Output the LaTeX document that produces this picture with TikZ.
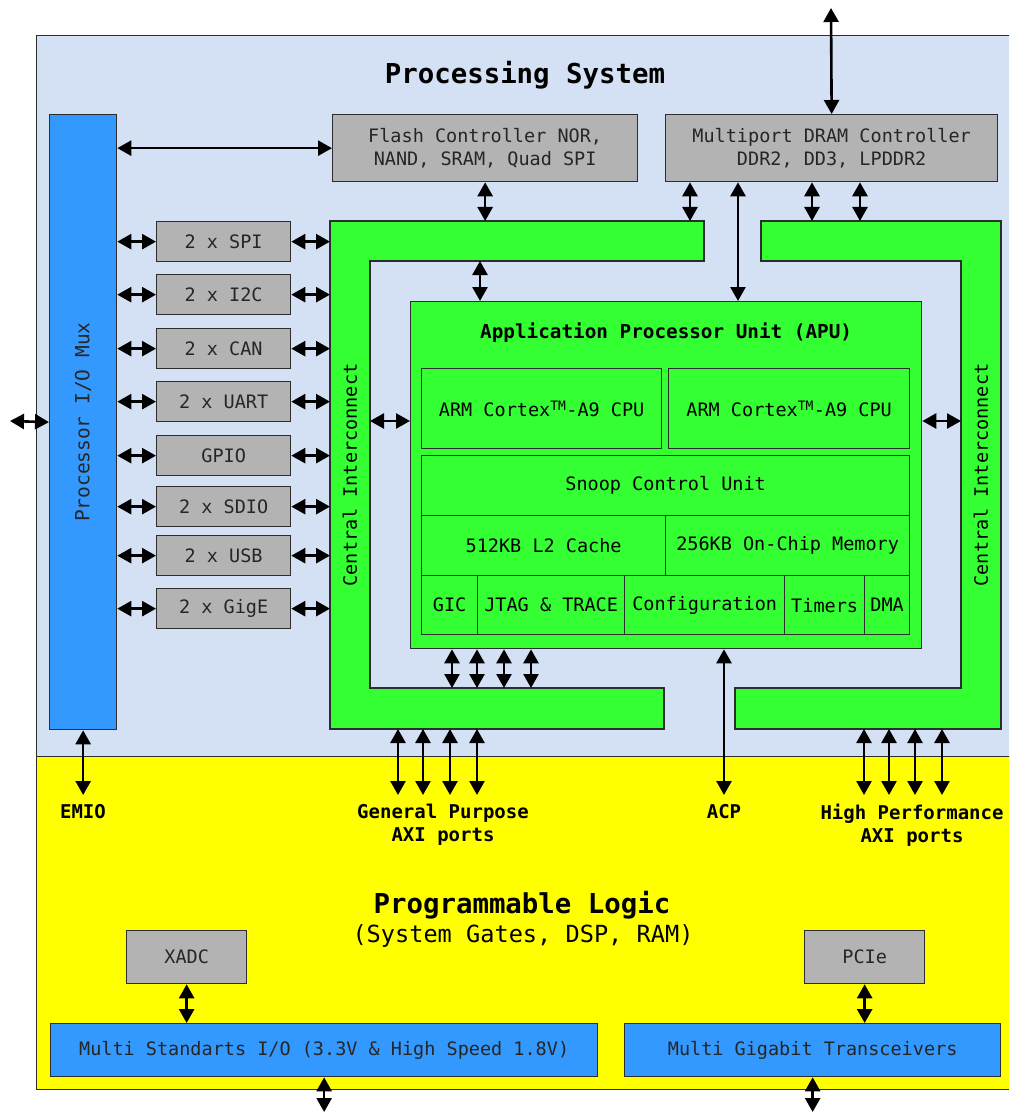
\documentclass[tikz,border=0pt]{standalone}
\usepackage{fontspec}
\setmainfont{DejaVu Sans Mono}
\usetikzlibrary{arrows.meta, positioning, calc}
\definecolor{psblue}{RGB}{212,225,244}
\definecolor{plyellow}{RGB}{255,255,0}
\definecolor{busgreen}{RGB}{51,255,51}
\definecolor{muxblue}{RGB}{51,153,255}
\definecolor{periphgray}{RGB}{179,179,179}
\definecolor{edgegray}{RGB}{45,45,45}
\tikzset{
  basebox/.style={rectangle,draw=edgegray,line width=1.3pt,inner sep=0pt,align=center,anchor=north west,font=\fontsize{18.5}{23}\selectfont},
  graybox/.style={basebox,fill=periphgray,text=black!85},
  bluebox/.style={basebox,fill=muxblue,text=black!85},
  greenbox/.style={basebox,fill=busgreen},
  periph/.style={graybox,minimum width=134pt,minimum height=40pt},
  busshape/.style={draw=edgegray,line width=1.3pt,fill=busgreen},
  biarr/.style={{Triangle[length=14pt,width=15pt]}-{Triangle[length=14pt,width=15pt]},line width=2.6pt,black},
  lbl/.style={anchor=north,align=center,font=\fontsize{19}{23}\selectfont\bfseries},
  vlbl/.style={rotate=90,font=\fontsize{18.5}{23}\selectfont},
  bigtitle/.style={font=\fontsize{27.4}{32}\selectfont\bfseries}
}

\begin{document}
\begin{tikzpicture}[x=1pt,y=-1pt]
  \useasboundingbox (0,0) rectangle (1009,1115);
  \clip (0,0) rectangle (1009,1115);

  %% Regions
  \node[basebox,fill=psblue,minimum width=994pt,minimum height=721pt] (ps) at (36,35) {};
  \node[basebox,fill=plyellow,minimum width=994pt,minimum height=333pt] (pl) at (36,756) {};
  \node[bigtitle] (pstitle) at (525,75) {Processing System};
  \node[bigtitle] (pltitle) at (522,905) {Programmable Logic};
  \node[font=\fontsize{23.6}{28}\selectfont] (plsub) at (523,936) {(System Gates, DSP, RAM)};

  %% Central interconnect (two C-shaped buses)
  \coordinate (ciLnw) at (330,221);
  \coordinate (ciLin) at (370,261);
  \coordinate (ciLbot) at (370,688);
  \coordinate (ciLsw) at (330,729);
  \coordinate (ciRne) at (1001,221);
  \coordinate (ciRin) at (961,261);
  \coordinate (ciRbot) at (961,688);
  \coordinate (ciRse) at (1001,729);
  \draw[busshape] (ciLnw) -- (704,221) -- (704,261) -- (ciLin) -- (ciLbot)
    -- (664,688) -- (664,729) -- (ciLsw) -- cycle;
  \draw[busshape] (761,221) -- (ciRne) -- (ciRse) -- (735,729) -- (735,688)
    -- (ciRbot) -- (ciRin) -- (761,261) -- cycle;
  \node[vlbl] (ciLtext) at (350,475) {Central Interconnect};
  \node[vlbl] (ciRtext) at (981,475) {Central Interconnect};

  %% I/O mux and peripherals
  \node[bluebox,minimum width=67pt,minimum height=615pt] (mux) at (49,114) {};
  \node[vlbl,font=\fontsize{19.5}{23}\selectfont,text=black!85] (muxtext) at (mux.center) {Processor I/O Mux};
  \node[periph] (spi) at (156,221) {2 x SPI};
  \node[periph] (iic) at (156,274) {2 x I2C};
  \node[periph] (can) at (156,328) {2 x CAN};
  \node[periph] (uart) at (156,381) {2 x UART};
  \node[periph] (gpio) at (156,435) {GPIO};
  \node[periph] (sdio) at (156,486) {2 x SDIO};
  \node[periph] (usb) at (156,535) {2 x USB};
  \node[periph] (gige) at (156,588) {2 x GigE};

  %% Memory controllers
  \node[graybox,minimum width=305pt,minimum height=67pt] (flash) at (332,114) {Flash Controller NOR,\\NAND, SRAM, Quad SPI};
  \node[graybox,minimum width=332pt,minimum height=67pt] (dram) at (665,114) {Multiport DRAM Controller\\DDR2, DD3, LPDDR2};

  %% APU
  \node[greenbox,minimum width=511pt,minimum height=347pt] (apu) at (410,301) {};
  \node[font=\fontsize{19.3}{23}\selectfont\bfseries] (aputitle) at ([yshift=-32pt]apu.north) {Application Processor Unit (APU)};
  \node[greenbox,minimum width=240pt,minimum height=80pt] (cpua) at (421,368) {ARM Cortex\textsuperscript{TM}-A9 CPU};
  \node[greenbox,minimum width=241pt,minimum height=80pt] (cpub) at (668,368) {ARM Cortex\textsuperscript{TM}-A9 CPU};
  \node[greenbox,minimum width=488pt,minimum height=60pt] (scu) at (421,455) {Snoop Control Unit};
  \node[greenbox,minimum width=244pt,minimum height=60pt] (ltwo) at (421,515) {512KB L2 Cache};
  \node[greenbox,minimum width=244pt,minimum height=60pt] (ocm) at (665,515) {256KB On-Chip Memory};
  \node[greenbox,minimum width=56pt,minimum height=59pt] (gic) at (421,575) {GIC};
  \node[greenbox,minimum width=147pt,minimum height=59pt] (jtag) at (477,575) {JTAG \& TRACE};
  \node[greenbox,minimum width=160pt,minimum height=59pt] (config) at (624,575) {Configuration};
  \node[greenbox,minimum width=80pt,minimum height=59pt] (timers) at (784,575) {Timers};
  \node[greenbox,minimum width=45pt,minimum height=59pt] (dma) at (864,575) {DMA};

  %% Programmable logic blocks
  \node[graybox,minimum width=120pt,minimum height=53pt] (xadc) at (126,930) {XADC};
  \node[graybox,minimum width=120pt,minimum height=53pt] (pcie) at (804,930) {PCIe};
  \node[bluebox,minimum width=547pt,minimum height=53pt] (msio) at (50,1023) {Multi Standarts I/O (3.3V \& High Speed 1.8V)};
  \node[bluebox,minimum width=376pt,minimum height=53pt] (mgt) at (624,1023) {Multi Gigabit Transceivers};

  %% Port labels
  \node[lbl] (emiolbl) at (83,801) {EMIO};
  \node[lbl] (gplbl) at (443,801) {General Purpose\\AXI ports};
  \node[lbl] (acplbl) at (724,801) {ACP};
  \node[lbl] (hplbl) at (912,801) {High Performance\\AXI ports};

  %% Port positions
  \coordinate (ddrio) at (831,8);
  \coordinate (mioext) at (10,421);
  \coordinate (cpurow) at (0,421);
  \coordinate (a1) at (480,0);
  \coordinate (d1) at (690,0);
  \coordinate (d2) at (738,0);
  \coordinate (d3) at (812,0);
  \coordinate (d4) at (860,0);
  \coordinate (m1) at (452,0);
  \coordinate (m2) at (477,0);
  \coordinate (m3) at (504,0);
  \coordinate (m4) at (531,0);
  \coordinate (g1) at (398,795);
  \coordinate (g2) at (423,795);
  \coordinate (g3) at (450,795);
  \coordinate (g4) at (477,795);
  \coordinate (acp) at (724,795);
  \coordinate (h1) at (864,795);
  \coordinate (h2) at (889,795);
  \coordinate (h3) at (915,795);
  \coordinate (h4) at (942,795);
  \coordinate (pinsrow) at (0,1112);

  %% Arrows
  \draw[biarr] (mioext) -- (mux.west);
  \draw[biarr] (mux.east |- flash.west) -- (flash.west);
  \draw[biarr] (mux.east |- spi.west) -- (spi.west);
  \draw[biarr] (mux.east |- iic.west) -- (iic.west);
  \draw[biarr] (mux.east |- can.west) -- (can.west);
  \draw[biarr] (mux.east |- uart.west) -- (uart.west);
  \draw[biarr] (mux.east |- gpio.west) -- (gpio.west);
  \draw[biarr] (mux.east |- sdio.west) -- (sdio.west);
  \draw[biarr] (mux.east |- usb.west) -- (usb.west);
  \draw[biarr] (mux.east |- gige.west) -- (gige.west);
  \draw[biarr] (spi.east) -- (ciLnw |- spi.east);
  \draw[biarr] (iic.east) -- (ciLnw |- iic.east);
  \draw[biarr] (can.east) -- (ciLnw |- can.east);
  \draw[biarr] (uart.east) -- (ciLnw |- uart.east);
  \draw[biarr] (gpio.east) -- (ciLnw |- gpio.east);
  \draw[biarr] (sdio.east) -- (ciLnw |- sdio.east);
  \draw[biarr] (usb.east) -- (ciLnw |- usb.east);
  \draw[biarr] (gige.east) -- (ciLnw |- gige.east);
  \draw[biarr] (flash.south) -- (flash.south |- ciLnw);
  \draw[biarr] (dram.north) -- (ddrio);
  \draw[biarr] (dram.south -| d1) -- (ciLnw -| d1);
  \draw[biarr] (dram.south -| d2) -- (apu.north -| d2);
  \draw[biarr] (dram.south -| d3) -- (ciRne -| d3);
  \draw[biarr] (dram.south -| d4) -- (ciRne -| d4);
  \draw[biarr] (ciLin -| a1) -- (apu.north -| a1);
  \draw[biarr] (ciLin |- cpurow) -- (apu.west |- cpurow);
  \draw[biarr] (apu.east |- cpurow) -- (ciRin |- cpurow);
  \draw[biarr] (apu.south -| m1) -- (ciLbot -| m1);
  \draw[biarr] (apu.south -| m2) -- (ciLbot -| m2);
  \draw[biarr] (apu.south -| m3) -- (ciLbot -| m3);
  \draw[biarr] (apu.south -| m4) -- (ciLbot -| m4);
  \draw[biarr] (mux.south) -- (mux.south |- g1);
  \draw[biarr] (ciLsw -| g1) -- (g1);
  \draw[biarr] (ciLsw -| g2) -- (g2);
  \draw[biarr] (ciLsw -| g3) -- (g3);
  \draw[biarr] (ciLsw -| g4) -- (g4);
  \draw[biarr] (apu.south -| acp) -- (acp);
  \draw[biarr] (ciRse -| h1) -- (h1);
  \draw[biarr] (ciRse -| h2) -- (h2);
  \draw[biarr] (ciRse -| h3) -- (h3);
  \draw[biarr] (ciRse -| h4) -- (h4);
  \draw[biarr] (xadc.south) -- (xadc.south |- msio.north);
  \draw[biarr] (pcie.south) -- (pcie.south |- mgt.north);
  \draw[biarr] (msio.south) -- (msio.south |- pinsrow);
  \draw[biarr] (mgt.south) -- (mgt.south |- pinsrow);
\end{tikzpicture}
\end{document}
